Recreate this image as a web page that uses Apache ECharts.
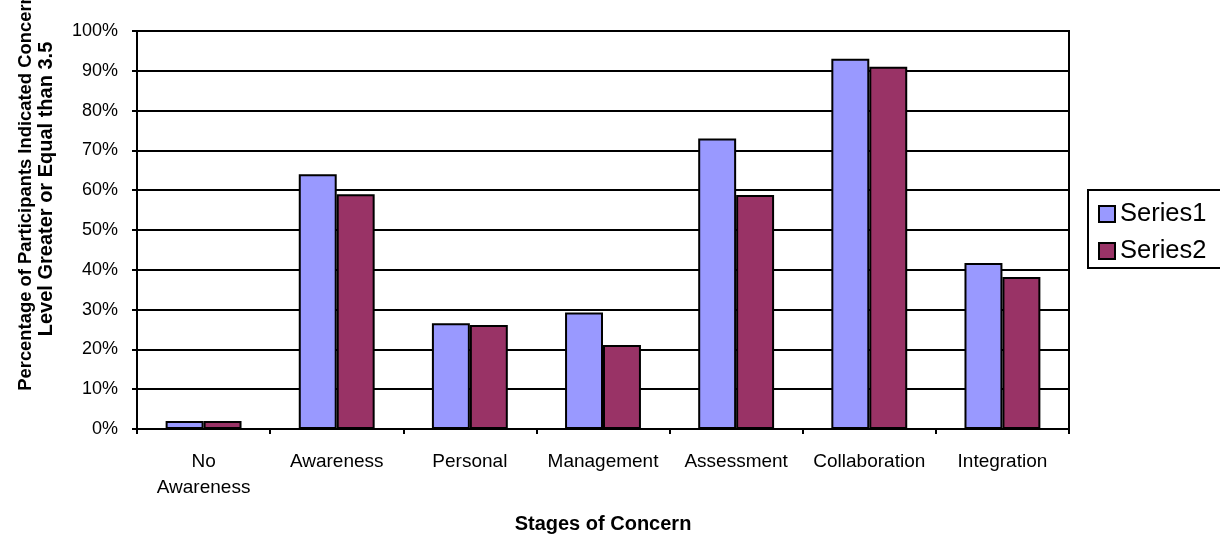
<!DOCTYPE html>
<html>
<head>
<meta charset="utf-8">
<script src="https://cdn.jsdelivr.net/npm/echarts@6/dist/echarts.min.js"></script>
<style>
html,body{margin:0;padding:0;background:#fff;}
#chart{width:1220px;height:534px;}
</style>
</head>
<body>
<div id="chart"></div>
<script>
const categories = ["No\nAwareness", "Awareness", "Personal", "Management", "Assessment", "Collaboration", "Integration"];
const series1 = [2.0, 64.0, 26.6, 29.3, 73.0, 93.0, 41.7];
const series2 = [2.0, 59.0, 26.1, 21.1, 58.8, 91.0, 38.2];
const seriesNames = ["Series1", "Series2"];
const yTitleLines = ["Percentage of Participants Indicated Concern", "Level Greater or Equal than 3.5"];
const xTitle = "Stages of Concern";

const FONT = "'Liberation Sans', Arial, sans-serif";
const chart = echarts.init(document.getElementById('chart'), null, {renderer: 'canvas'});
chart.setOption({
  animation: false,
  backgroundColor: '#fff',
  grid: {left: 137, top: 31, right: 151, bottom: 105, containLabel: false, outerBoundsMode: 'none',
         show: true, borderColor: '#000', borderWidth: 2, backgroundColor: 'transparent'},
  legend: {
    orient: 'vertical',
    left: 1088, top: 190,
    data: seriesNames,
    itemWidth: 16, itemHeight: 16, itemGap: 11,
    padding: [11, 60, 4, 10],
    borderColor: '#000', borderWidth: 2,
    textStyle: {fontFamily: FONT, fontSize: 25.5, color: '#000', lineHeight: 26},
    icon: 'rect'
  },
  xAxis: {
    type: 'category',
    data: categories,
    axisLine: {lineStyle: {color: '#000', width: 2}},
    axisTick: {show: true, length: 5, lineStyle: {color: '#000', width: 2}},
    axisLabel: {fontFamily: FONT, fontSize: 19, color: '#000', margin: 20, lineHeight: 26, interval: 0},
    name: xTitle,
    nameLocation: 'middle',
    nameGap: 85,
    nameTextStyle: {fontFamily: FONT, fontSize: 20, fontWeight: 'bold', color: '#000'}
  },
  yAxis: {
    type: 'value',
    min: 0, max: 100, interval: 10,
    axisLine: {show: true, lineStyle: {color: '#000', width: 2}},
    axisTick: {show: true, length: 5, lineStyle: {color: '#000', width: 2}},
    axisLabel: {fontFamily: FONT, fontSize: 18, color: '#000', margin: 19, formatter: '{value}%'},
    splitLine: {show: true, lineStyle: {color: '#000', width: 2}}
  },
  graphic: [{
    type: 'text',
    rotation: Math.PI / 2,
    x: 26, y: 192,
    style: {
      text: yTitleLines[0],
      font: "bold 18.4px 'Liberation Sans', Arial, sans-serif",
      fill: '#000',
      textAlign: 'center',
      textVerticalAlign: 'middle'
    }
  }, {
    type: 'text',
    rotation: Math.PI / 2,
    x: 46, y: 189,
    style: {
      text: yTitleLines[1],
      font: "bold 20px 'Liberation Sans', Arial, sans-serif",
      fill: '#000',
      textAlign: 'center',
      textVerticalAlign: 'middle'
    }
  }],
  series: [
    {name: seriesNames[0], type: 'bar', data: series1, barGap: '0%', barCategoryGap: '43%',
     itemStyle: {color: '#9999FF', borderColor: '#000', borderWidth: 2}},
    {name: seriesNames[1], type: 'bar', data: series2,
     itemStyle: {color: '#993366', borderColor: '#000', borderWidth: 2}}
  ]
});
</script>
</body>
</html>
